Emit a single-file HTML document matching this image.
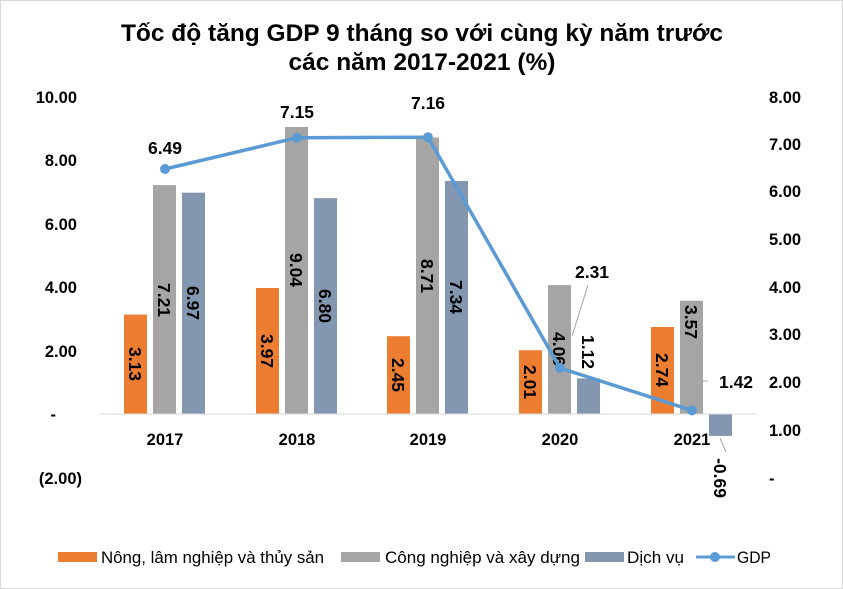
<!DOCTYPE html>
<html><head><meta charset="utf-8"><style>body{margin:0;background:#fff}svg{display:block}text{font-family:"Liberation Sans",sans-serif;font-weight:bold;fill:#000}</style></head><body>
<svg width="843" height="589" viewBox="0 0 843 589">
<rect x="0.5" y="0.5" width="842" height="588" fill="#fff" stroke="#d9d9d9"/>
<text x="422" y="41" font-size="24.5" text-anchor="middle">Tốc độ tăng GDP 9 tháng so với cùng kỳ năm trước</text>
<text x="422" y="70" font-size="24.5" text-anchor="middle">các năm 2017-2021 (%)</text>
<g font-size="16.5" text-anchor="end">
<text x="77" y="103">10.00</text><text x="77" y="166">8.00</text><text x="77" y="230">6.00</text><text x="77" y="293">4.00</text><text x="77" y="357">2.00</text><text x="56" y="420">-</text><text x="82" y="484">(2.00)</text>
</g>
<g font-size="16.5" text-anchor="start">
<text x="769" y="103">8.00</text><text x="769" y="150">7.00</text><text x="769" y="197">6.00</text><text x="769" y="245">5.00</text><text x="769" y="293">4.00</text><text x="769" y="340">3.00</text><text x="769" y="388">2.00</text><text x="769" y="436">1.00</text><text x="769" y="484">-</text>
</g>
<g>
<rect x="124" y="314.6" width="23" height="99.4" fill="#ED7D31"/>
<rect x="153" y="185.1" width="23" height="228.9" fill="#A5A5A5"/>
<rect x="182" y="192.7" width="23" height="221.3" fill="#8497B0"/>
<rect x="256" y="288" width="23" height="126" fill="#ED7D31"/>
<rect x="285" y="127" width="23" height="287" fill="#A5A5A5"/>
<rect x="314" y="198.1" width="23" height="215.9" fill="#8497B0"/>
<rect x="387" y="336.2" width="23" height="77.8" fill="#ED7D31"/>
<rect x="416" y="137.5" width="23" height="276.5" fill="#A5A5A5"/>
<rect x="445" y="181" width="23" height="233" fill="#8497B0"/>
<rect x="519" y="350.2" width="23" height="63.8" fill="#ED7D31"/>
<rect x="548" y="285.1" width="23" height="128.9" fill="#A5A5A5"/>
<rect x="577" y="378.4" width="23" height="35.6" fill="#8497B0"/>
<rect x="651" y="327" width="23" height="87" fill="#ED7D31"/>
<rect x="680" y="300.7" width="23" height="113.3" fill="#A5A5A5"/>
<rect x="709" y="414" width="23" height="21.9" fill="#8497B0"/>
</g>
<line x1="99" y1="414" x2="757" y2="414" stroke="#d9d9d9" stroke-width="1"/>
<g font-size="16.5" text-anchor="middle">
<text x="165" y="445">2017</text><text x="297" y="445">2018</text><text x="428" y="445">2019</text><text x="560" y="445">2020</text><text x="692" y="445">2021</text>
</g>
<g font-size="17.5" text-anchor="middle">
<text transform="translate(129,364) rotate(90)">3.13</text>
<text transform="translate(158,300) rotate(90)">7.21</text>
<text transform="translate(187,303) rotate(90)">6.97</text>
<text transform="translate(261,351) rotate(90)">3.97</text>
<text transform="translate(290,270) rotate(90)">9.04</text>
<text transform="translate(319,306) rotate(90)">6.80</text>
<text transform="translate(392,375) rotate(90)">2.45</text>
<text transform="translate(421,276) rotate(90)">8.71</text>
<text transform="translate(450,297) rotate(90)">7.34</text>
<text transform="translate(524,382) rotate(90)">2.01</text>
<text transform="translate(553,349) rotate(90)">4.06</text>
<text transform="translate(582,352) rotate(90)">1.12</text>
<text transform="translate(656,370) rotate(90)">2.74</text>
<text transform="translate(685,322) rotate(90)">3.57</text>
<text transform="translate(714,478) rotate(90)">-0.69</text>
</g>
<line x1="588" y1="285" x2="572" y2="336" stroke="#a6a6a6"/>
<line x1="702" y1="381" x2="708" y2="381" stroke="#a6a6a6"/>
<line x1="720" y1="438" x2="726" y2="452" stroke="#a6a6a6"/>
<polyline points="165,169 297,137.7 428,137.2 560,368 692,410.4" fill="none" stroke="#5B9BD5" stroke-width="3.5" stroke-linejoin="round"/>
<g fill="#5B9BD5"><circle cx="165" cy="169" r="5"/><circle cx="297" cy="137.7" r="5"/><circle cx="428" cy="137.2" r="5"/><circle cx="560" cy="368" r="5"/><circle cx="692" cy="410.4" r="5"/></g>
<g font-size="17.5" text-anchor="middle">
<text x="165" y="154">6.49</text><text x="297" y="118">7.15</text><text x="428" y="109">7.16</text><text x="592" y="278">2.31</text><text x="736" y="388">1.42</text>
</g>
<g font-size="17">
<rect x="58" y="552" width="39" height="10" fill="#ED7D31"/><text x="101" y="563" textLength="223" lengthAdjust="spacingAndGlyphs" style="font-weight:normal">Nông, lâm nghiệp và thủy sản</text>
<rect x="341" y="552" width="39" height="10" fill="#A5A5A5"/><text x="385" y="563" textLength="195" lengthAdjust="spacingAndGlyphs" style="font-weight:normal">Công nghiệp và xây dựng</text>
<rect x="585" y="552" width="39" height="10" fill="#8497B0"/><text x="627" y="563" textLength="57" lengthAdjust="spacingAndGlyphs" style="font-weight:normal">Dịch vụ</text>
<line x1="696" y1="557" x2="735" y2="557" stroke="#5B9BD5" stroke-width="3"/><circle cx="715" cy="557" r="5" fill="#5B9BD5"/><text x="737" y="563" textLength="34" lengthAdjust="spacingAndGlyphs" style="font-weight:normal">GDP</text>
</g>
</svg>
</body></html>
